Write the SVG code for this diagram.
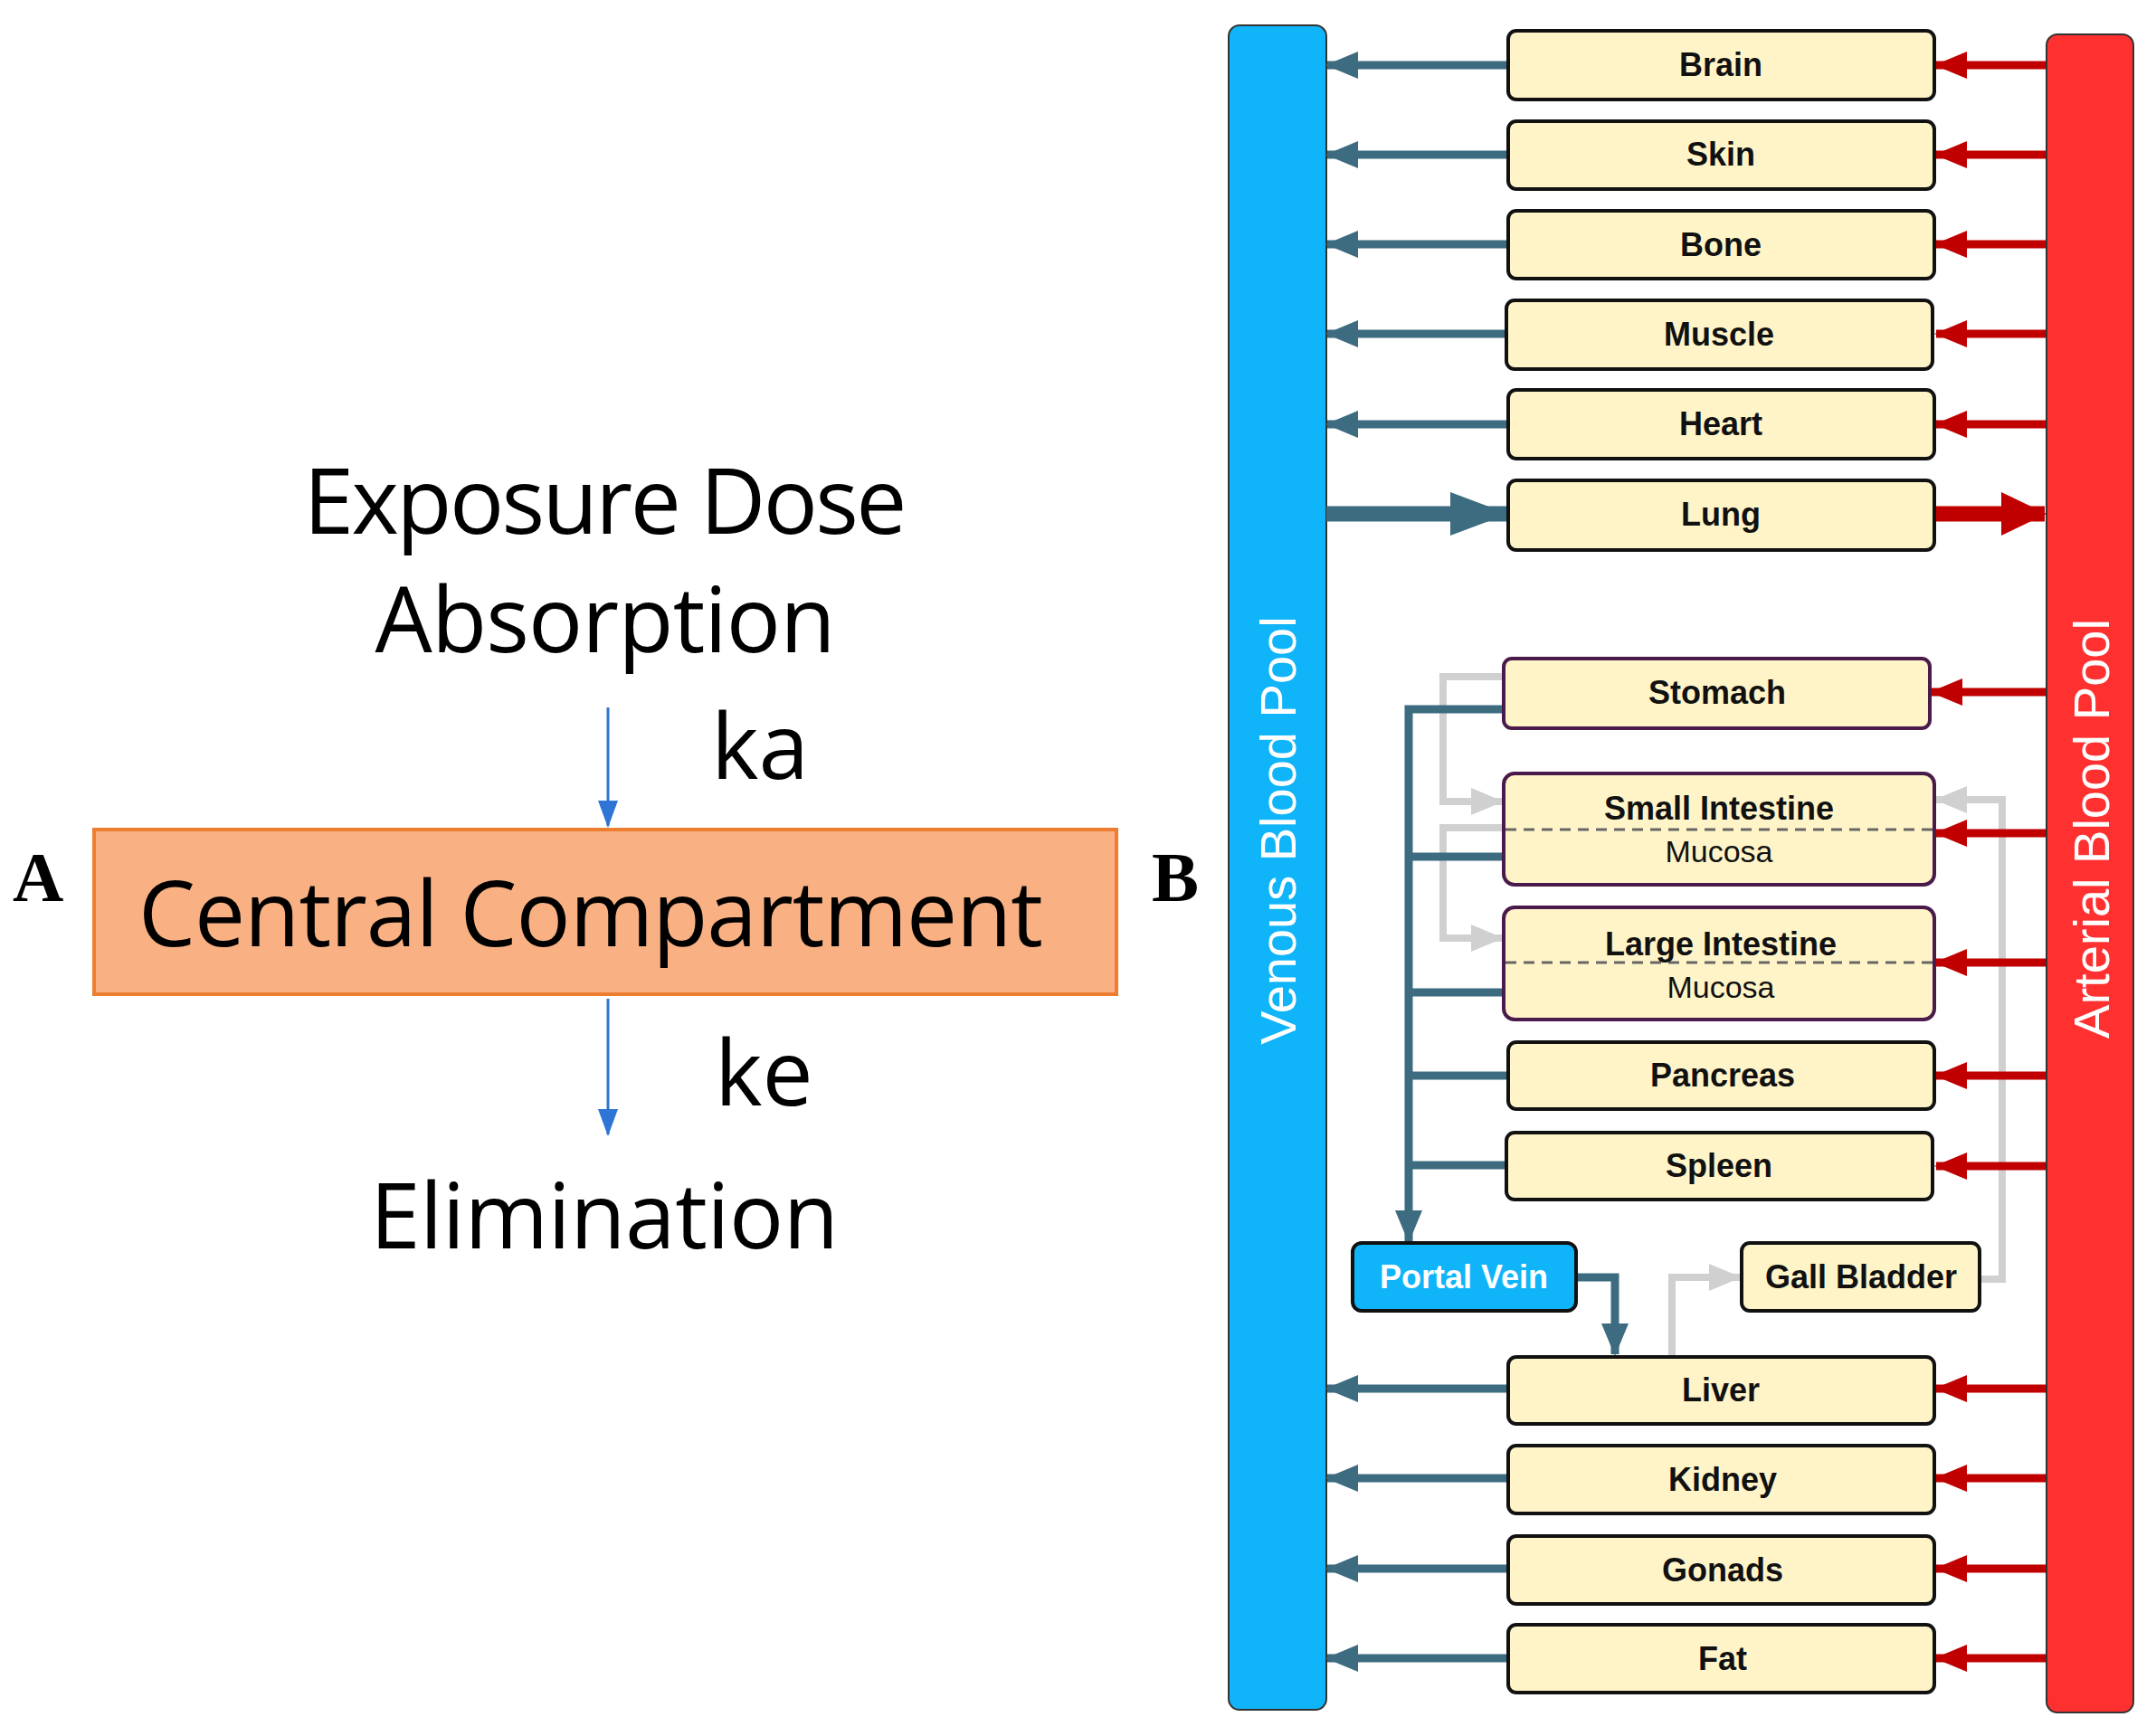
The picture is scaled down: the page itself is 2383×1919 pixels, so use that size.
<svg xmlns="http://www.w3.org/2000/svg" width="2383" height="1919" viewBox="0 0 2383 1919">
<defs>
<style>
.big{font-family:"Open Sans","Liberation Sans",sans-serif;fill:#000;font-size:100px}
.lbl{font-family:"Liberation Serif",serif;font-weight:bold;font-size:78px}
.org{fill:#fff4c8;stroke:#111;stroke-width:4}
.gi{fill:#fff4c8;stroke:#4a1a4a;stroke-width:4}
.t{font-family:"Liberation Sans",Arial,sans-serif;font-weight:bold;font-size:36px;text-anchor:middle;fill:#111}
.m{font-family:"Liberation Sans",Arial,sans-serif;font-size:34px;text-anchor:middle;fill:#111}
.v{stroke:#3d6b80;stroke-width:9;fill:none}
.r{stroke:#c00000;stroke-width:9;fill:none}
.g{stroke:#d0d0d0;stroke-width:8;fill:none}
</style>
<marker id="av" markerUnits="userSpaceOnUse" markerWidth="36" markerHeight="30" refX="34" refY="15" orient="auto"><path d="M0,0 L36,15 L0,30 Z" fill="#3d6b80"/></marker>
<marker id="ar" markerUnits="userSpaceOnUse" markerWidth="36" markerHeight="30" refX="34" refY="15" orient="auto"><path d="M0,0 L36,15 L0,30 Z" fill="#c00000"/></marker>
<marker id="ag" markerUnits="userSpaceOnUse" markerWidth="36" markerHeight="30" refX="34" refY="15" orient="auto"><path d="M0,0 L36,15 L0,30 Z" fill="#d0d0d0"/></marker>
<marker id="avb" markerUnits="userSpaceOnUse" markerWidth="64" markerHeight="48" refX="62" refY="24" orient="auto"><path d="M0,0 L64,24 L0,48 Z" fill="#3d6b80"/></marker>
<marker id="arb" markerUnits="userSpaceOnUse" markerWidth="50" markerHeight="48" refX="48" refY="24" orient="auto"><path d="M0,0 L50,24 L0,48 Z" fill="#c00000"/></marker>
<marker id="ab" markerUnits="userSpaceOnUse" markerWidth="30" markerHeight="30" refX="28" refY="15" orient="auto"><path d="M0,4 L30,15 L0,26 Z" fill="#2e75d6"/></marker>
</defs>
<rect width="2383" height="1919" fill="#fff"/>

<g id="panelA">
<text class="big" x="669" y="590" text-anchor="middle" textLength="667">Exposure Dose</text>
<text class="big" x="669" y="721" text-anchor="middle" textLength="509">Absorption</text>
<text class="big" x="786" y="861">ka</text>
<g id="central"><rect x="104" y="917" width="1130" height="182" fill="#f9b183" stroke="#ed7d31" stroke-width="4"/>
<text class="big" x="653" y="1046" text-anchor="middle" textLength="1000">Central Compartment</text></g>
<text class="big" x="790" y="1222">ke</text>
<text class="big" x="668" y="1380" text-anchor="middle" textLength="518">Elimination</text>
<text class="lbl" x="14" y="996">A</text>
<text class="lbl" x="1273" y="996">B</text>
<g id="arrowsA"><line x1="672" y1="782" x2="672" y2="913" stroke="#2e75d6" stroke-width="3" marker-end="url(#ab)"/>
<line x1="672" y1="1104" x2="672" y2="1254" stroke="#2e75d6" stroke-width="3" marker-end="url(#ab)"/></g>
</g>

<g id="venous"><rect x="1358" y="28" width="108" height="1862" rx="12" fill="#10b4f8" stroke="#333" stroke-width="2"/>
<text transform="translate(1432,918) rotate(-90)" font-family="Liberation Sans,Arial,sans-serif" font-size="56" fill="#fff" text-anchor="middle">Venous Blood Pool</text></g>
<g id="arterial"><rect x="2262" y="38" width="96" height="1855" rx="12" fill="#ff3030" stroke="#333" stroke-width="2"/>
<text transform="translate(2331,916) rotate(-90)" font-family="Liberation Sans,Arial,sans-serif" font-size="56" fill="#fff" text-anchor="middle">Arterial Blood Pool</text></g>

<g id="connectors">
<!-- gray -->
<polyline class="g" points="1662,748 1595,748 1595,886 1660,886" marker-end="url(#ag)"/>
<polyline class="g" points="1662,915 1595,915 1595,1037 1660,1037" marker-end="url(#ag)"/>
<polyline class="g" points="2188,1414 2213,1414 2213,884 2140,884" marker-end="url(#ag)"/>
<polyline class="g" points="1848,1498 1848,1412 1923,1412" marker-end="url(#ag)"/>
<!-- venous outflows -->
<line class="v" x1="1667" y1="72" x2="1467" y2="72" marker-end="url(#av)"/>
<line class="v" x1="1667" y1="171" x2="1467" y2="171" marker-end="url(#av)"/>
<line class="v" x1="1667" y1="270" x2="1467" y2="270" marker-end="url(#av)"/>
<line class="v" x1="1667" y1="369" x2="1467" y2="369" marker-end="url(#av)"/>
<line class="v" x1="1667" y1="469" x2="1467" y2="469" marker-end="url(#av)"/>
<line class="v" x1="1667" y1="1535" x2="1467" y2="1535" marker-end="url(#av)"/>
<line class="v" x1="1667" y1="1634" x2="1467" y2="1634" marker-end="url(#av)"/>
<line class="v" x1="1667" y1="1734" x2="1467" y2="1734" marker-end="url(#av)"/>
<line class="v" x1="1667" y1="1833" x2="1467" y2="1833" marker-end="url(#av)"/>
<line x1="1466" y1="568" x2="1665" y2="568" stroke="#3d6b80" stroke-width="17" marker-end="url(#avb)"/>
<!-- arterial inflows -->
<line class="r" x1="2261" y1="72" x2="2140" y2="72" marker-end="url(#ar)"/>
<line class="r" x1="2261" y1="171" x2="2140" y2="171" marker-end="url(#ar)"/>
<line class="r" x1="2261" y1="270" x2="2140" y2="270" marker-end="url(#ar)"/>
<line class="r" x1="2261" y1="369" x2="2140" y2="369" marker-end="url(#ar)"/>
<line class="r" x1="2261" y1="469" x2="2140" y2="469" marker-end="url(#ar)"/>
<line class="r" x1="2261" y1="765" x2="2135" y2="765" marker-end="url(#ar)"/>
<line class="r" x1="2261" y1="921" x2="2140" y2="921" marker-end="url(#ar)"/>
<line class="r" x1="2261" y1="1064" x2="2140" y2="1064" marker-end="url(#ar)"/>
<line class="r" x1="2261" y1="1189" x2="2140" y2="1189" marker-end="url(#ar)"/>
<line class="r" x1="2261" y1="1289" x2="2140" y2="1289" marker-end="url(#ar)"/>
<line class="r" x1="2261" y1="1535" x2="2140" y2="1535" marker-end="url(#ar)"/>
<line class="r" x1="2261" y1="1634" x2="2140" y2="1634" marker-end="url(#ar)"/>
<line class="r" x1="2261" y1="1734" x2="2140" y2="1734" marker-end="url(#ar)"/>
<line class="r" x1="2261" y1="1833" x2="2140" y2="1833" marker-end="url(#ar)"/>
<line x1="2138" y1="568" x2="2260" y2="568" stroke="#c00000" stroke-width="17" marker-end="url(#arb)"/>
<!-- portal collector -->
<polyline class="v" points="1662,784 1557,784 1557,1372" marker-end="url(#av)"/>
<line class="v" x1="1662" y1="947" x2="1557" y2="947"/>
<line class="v" x1="1662" y1="1097" x2="1557" y2="1097"/>
<line class="v" x1="1667" y1="1189" x2="1557" y2="1189"/>
<line class="v" x1="1667" y1="1288" x2="1557" y2="1288"/>
<polyline class="v" points="1742,1412 1785,1412 1785,1497" marker-end="url(#av)"/>
</g>

<g id="brain"><rect class="org" x="1667" y="34" width="471" height="76" rx="9"/><text class="t" x="1902" y="84">Brain</text></g>
<g id="skin"><rect class="org" x="1667" y="134" width="471" height="75" rx="9"/><text class="t" x="1902" y="183">Skin</text></g>
<g id="bone"><rect class="org" x="1667" y="233" width="471" height="75" rx="9"/><text class="t" x="1902" y="283">Bone</text></g>
<g id="muscle"><rect class="org" x="1665" y="332" width="471" height="76" rx="9"/><text class="t" x="1900" y="382">Muscle</text></g>
<g id="heart"><rect class="org" x="1667" y="431" width="471" height="76" rx="9"/><text class="t" x="1902" y="481">Heart</text></g>
<g id="lung"><rect class="org" x="1667" y="531" width="471" height="77" rx="9"/><text class="t" x="1902" y="581">Lung</text></g>
<g id="stomach"><rect class="gi" x="1662" y="728" width="471" height="77" rx="9"/><text class="t" x="1898" y="778">Stomach</text></g>
<g id="smallint"><rect class="gi" x="1662" y="855" width="476" height="123" rx="12"/>
<line x1="1664" y1="917" x2="2136" y2="917" stroke="#666" stroke-width="3" stroke-dasharray="12,8"/>
<text class="t" x="1900" y="906">Small Intestine</text><text class="m" x="1900" y="953">Mucosa</text></g>
<g id="largeint"><rect class="gi" x="1662" y="1003" width="476" height="124" rx="12"/>
<line x1="1664" y1="1064" x2="2136" y2="1064" stroke="#666" stroke-width="3" stroke-dasharray="12,8"/>
<text class="t" x="1902" y="1056">Large Intestine</text><text class="m" x="1902" y="1103">Mucosa</text></g>
<g id="pancreas"><rect class="org" x="1667" y="1152" width="471" height="74" rx="9"/><text class="t" x="1904" y="1201">Pancreas</text></g>
<g id="spleen"><rect class="org" x="1665" y="1252" width="471" height="74" rx="9"/><text class="t" x="1900" y="1301">Spleen</text></g>
<g id="portal"><rect x="1495" y="1374" width="247" height="75" rx="10" fill="#10b4f8" stroke="#111" stroke-width="4"/><text class="t" x="1618" y="1424" fill="#fff" style="fill:#fff">Portal Vein</text></g>
<g id="gall"><rect class="org" x="1925" y="1374" width="263" height="75" rx="9"/><text class="t" x="2057" y="1424">Gall Bladder</text></g>
<g id="liver"><rect class="org" x="1667" y="1500" width="471" height="74" rx="9"/><text class="t" x="1902" y="1549">Liver</text></g>
<g id="kidney"><rect class="org" x="1667" y="1598" width="471" height="75" rx="9"/><text class="t" x="1904" y="1648">Kidney</text></g>
<g id="gonads"><rect class="org" x="1667" y="1698" width="471" height="75" rx="9"/><text class="t" x="1904" y="1748">Gonads</text></g>
<g id="fat"><rect class="org" x="1667" y="1796" width="471" height="75" rx="9"/><text class="t" x="1904" y="1846">Fat</text></g>
</svg>
